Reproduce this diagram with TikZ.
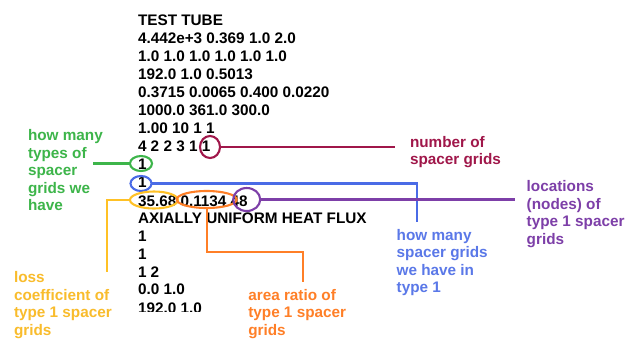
\documentclass[tikz,border=0pt]{standalone}
\usepackage{fontspec}
\setmainfont{Liberation Sans}
\usetikzlibrary{shapes.geometric}

\definecolor{cmaroon}{HTML}{A0174A}
\definecolor{cgreen}{HTML}{3DB54A}
\definecolor{cblue}{HTML}{4A6BE6}
\definecolor{cbluetext}{HTML}{5A78E8}
\definecolor{cpurple}{HTML}{7D3FA8}
\definecolor{cgold}{HTML}{FFC125}
\definecolor{cgoldtext}{HTML}{F9BC2C}
\definecolor{corange}{HTML}{FF7F27}

\tikzset{
  dataline/.style={anchor=base west, inner sep=0pt, outer sep=0pt,
    font=\fontsize{15.3bp}{18bp}\selectfont\bfseries},
  % multi-line notes: the base anchor sits on the last line's baseline
  note/.style={anchor=base west, inner sep=0pt, outer sep=0pt, align=left,
    font=\fontsize{15.3bp}{17.5bp}\selectfont\bfseries},
  ring/.style={ellipse, draw=#1, line width=2.1bp, inner sep=0pt, outer sep=0pt},
  lead/.style={draw=#1, line width=2.1bp}
}

\begin{document}
\begin{tikzpicture}[x=1bp, y=-1bp]
  \useasboundingbox[fill=white] (0,0) rectangle (629,338);

  % input deck, one node per line
  \node[dataline] (l1)  at (138,25.5)  {TEST TUBE};
  \node[dataline] (l2)  at (138,43.3)  {4.442e+3 0.369 1.0 2.0};
  \node[dataline] (l3)  at (138,61)    {1.0 1.0 1.0 1.0 1.0 1.0};
  \node[dataline] (l4)  at (138,79)    {192.0 1.0 0.5013};
  \node[dataline] (l5)  at (138,97.5)  {0.3715 0.0065 0.400 0.0220};
  \node[dataline] (l6)  at (138,115.5) {1000.0 361.0 300.0};
  \node[dataline] (l7)  at (138,133.5) {1.00 10 1 1};
  \node[dataline] (l8)  at (138,151.5) {4 2 2 3 1 1};
  \node[dataline] (l9)  at (138,169.5) {1};
  \node[dataline] (l10) at (138,187.8) {1};
  \node[dataline] (l11) at (138,206)   {35.68 0.1134 48};
  \node[dataline] (l12) at (138,223.5) {AXIALLY UNIFORM HEAT FLUX};
  \node[dataline] (l13) at (138,241.5) {1};
  \node[dataline] (l14) at (138,259.3) {1};
  \node[dataline] (l15) at (138,277)   {1 2};
  \node[dataline] (l16) at (138,294.5) {0.0 1.0};
  \begin{scope}
    \clip (120,290) rectangle (260,311.5);
    \node[dataline] (l17) at (138,313) {192.0 1.0};
  \end{scope}

  % rings around the spacer-grid entries
  \node[ring=cmaroon, minimum width=20bp, minimum height=22bp] (rnum)  at (210,147) {};
  \node[ring=cgreen,  minimum width=22bp, minimum height=15bp] (rtype) at (141,163.5) {};
  \node[ring=cblue,   minimum width=21bp, minimum height=15bp] (rcnt)  at (141,183.5) {};
  \node[ring=cgold,   minimum width=48bp, minimum height=17bp] (rloss) at (154,200) {};
  \node[ring=corange, minimum width=60bp, minimum height=17bp] (rarea) at (206.7,199.5) {};
  \node[ring=cpurple, minimum width=27bp, minimum height=23bp] (rloc)  at (246.7,199.5) {};

  % explanatory labels
  \node[note, text=cmaroon]   (tnum)  at (410,164.8)   {number of\\spacer grids};
  \node[note, text=cgreen]    (ttype) at (28,210.7)    {how many\\types of\\spacer\\grids we\\have};
  \node[note, text=cbluetext] (tcnt)  at (396.7,292.5) {how many\\spacer grids\\we have in\\type 1};
  \node[note, text=cpurple]   (tloc)  at (526.7,244.2) {locations\\(nodes) of\\type 1 spacer\\grids};
  \node[note, text=cgoldtext] (tloss) at (14,335.2)    {loss\\coefficient of\\type 1 spacer\\grids};
  \node[note, text=corange]   (tarea) at (248.3,335)   {area ratio of\\type 1 spacer\\grids};

  % leader ends
  \coordinate (enum)  at (395,147);
  \coordinate (etype) at (93,163.5);
  \coordinate (ecnt)  at (417,221.5);
  \coordinate (eloc)  at (515,199.5);
  \coordinate (bloss) at (107,200);
  \coordinate (eloss) at (107,271.7);
  \coordinate (barea) at (303.3,252.3);
  \coordinate (earea) at (303.3,281.7);

  % leader lines
  \draw[lead=cmaroon] (rnum.east) -- (enum);
  \draw[lead=cgreen]  (rtype.west) -- (etype);
  \draw[lead=cblue]   (rcnt.east) -| (ecnt);
  \draw[lead=cpurple] (rloc.east) -- (eloc);
  \draw[lead=cgold]   (rloss.west) -- (bloss) -- (eloss);
  \draw[lead=corange] (rarea.south) |- (barea) -- (earea);
\end{tikzpicture}
\end{document}
